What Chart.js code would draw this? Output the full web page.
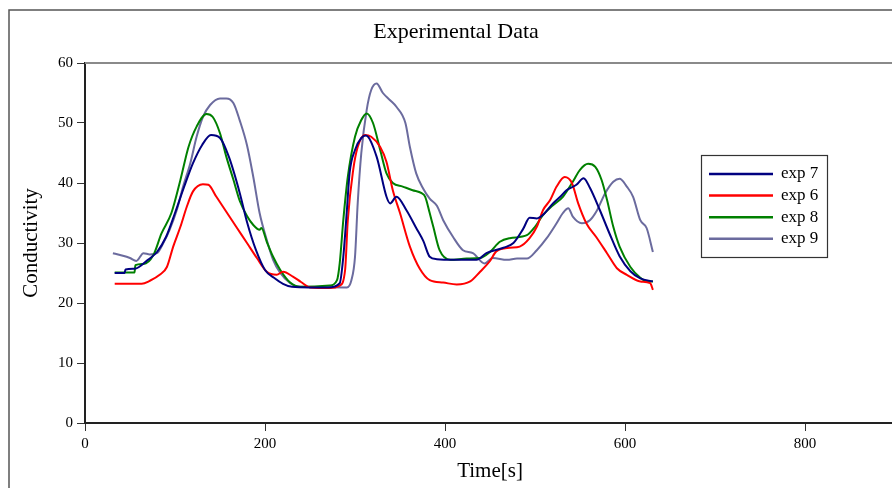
<!DOCTYPE html>
<html>
<head>
<meta charset="utf-8">
<script src="https://cdn.jsdelivr.net/npm/chart.js@4/dist/chart.umd.min.js"></script>
<style>
  html, body { margin: 0; padding: 0; background: #fff; overflow: hidden; }
  #wrap { position: absolute; left: 0; top: 0; width: 912px; height: 500px; }
</style>
</head>
<body>
<div id="wrap"><canvas id="chart" width="912" height="500"></canvas></div>
<script>
// series data (time in s, conductivity)
const labels = ['exp 7', 'exp 6', 'exp 8', 'exp 9'];
const colors = ['#000080', '#ff0000', '#008000', '#6b6b9e'];

const time7 = [33, 44, 45, 55, 60, 70, 80, 90, 100, 110, 120, 130, 140, 150, 160, 172, 180, 190, 200, 210, 220, 230, 250, 270, 283, 287, 291, 294, 300, 307, 312, 324, 335, 339, 346, 357, 368, 376, 383, 391, 410, 435, 446, 465, 476, 487, 494, 502, 509, 520, 528, 535, 546, 554, 561, 572, 583, 594, 606, 617, 631];
const exp7 = [25, 25, 25.6, 25.7, 26, 27.2, 28.5, 31, 35, 39.3, 43.3, 46.3, 48, 47.5, 44.3, 38.3, 33.5, 28.8, 25.5, 24.2, 23.2, 22.7, 22.6, 22.6, 23.3, 27.7, 35.5, 41.7, 45.5, 47.5, 47.9, 44.4, 37.7, 36.6, 37.7, 35.5, 32.5, 30.3, 27.7, 27.3, 27.2, 27.2, 28.3, 29.2, 30, 32.4, 34.2, 34.1, 34.7, 36.6, 37.7, 38.8, 39.7, 40.8, 39.2, 35.5, 31.5, 27.8, 25.3, 24.1, 23.6];

const time6 = [33, 63, 72, 83, 91, 98, 106, 113, 120, 131, 137, 146, 157, 168, 180, 191, 202, 213, 220, 231, 240, 250, 272, 283, 289, 292, 298, 303, 311, 318, 328, 335, 342, 350, 361, 372, 383, 398, 413, 428, 439, 450, 457, 472, 483, 494, 502, 509, 517, 524, 533, 541, 548, 557, 568, 580, 591, 602, 617, 628, 631];
const exp6 = [23.2, 23.2, 23.7, 24.7, 26, 29.4, 32.7, 36, 38.6, 39.8, 39.7, 37.7, 35.2, 32.7, 30, 27.5, 25.2, 24.7, 25.2, 24.4, 23.5, 22.6, 22.5, 22.9, 25.5, 33.8, 42.2, 46, 48, 47.7, 46, 43.5, 38.8, 35, 29.4, 25.7, 23.8, 23.4, 23.1, 23.6, 25.2, 27, 28.6, 29.2, 29.4, 30.8, 32.7, 35.5, 37.2, 39.4, 41, 40, 36.6, 33.3, 31, 28.3, 25.8, 24.7, 23.6, 23.3, 22.2];

const time8 = [33, 55, 56, 65, 76, 85, 96, 106, 115, 124, 135, 142, 150, 157, 165, 172, 180, 187, 194, 196, 202, 209, 217, 228, 239, 272, 280, 283, 287, 292, 300, 307, 313, 320, 328, 335, 342, 353, 364, 374, 378, 383, 387, 394, 406, 424, 439, 450, 461, 472, 491, 500, 509, 520, 531, 542, 550, 559, 567, 574, 580, 587, 594, 606, 617, 624, 631];
const exp8 = [25.1, 25.1, 26.3, 26.5, 28, 31.6, 35, 40.5, 46, 49.4, 51.5, 51, 48.3, 44.4, 40.5, 37, 34.5, 33, 32.2, 32.5, 30.2, 27.7, 25.5, 23.4, 22.7, 22.9, 23.8, 26.6, 33.8, 41, 47.7, 50.5, 51.6, 50, 45.5, 41.6, 40, 39.4, 38.8, 38.3, 37.7, 35, 32.7, 28.8, 27.2, 27.4, 27.5, 28.5, 30.2, 30.8, 31.3, 32.7, 34.7, 36.3, 37.7, 40.2, 42.2, 43.2, 42.7, 40.5, 37.2, 32.7, 29.4, 26, 24.2, 23.6, 23.6];

const time9 = [31, 39, 50, 57, 65, 72, 80, 87, 94, 102, 109, 117, 124, 131, 139, 150, 157, 165, 172, 180, 187, 194, 202, 209, 217, 228, 239, 291, 296, 300, 303, 307, 313, 318, 324, 331, 339, 346, 356, 361, 368, 376, 383, 391, 398, 409, 420, 431, 444, 453, 469, 480, 491, 502, 513, 524, 531, 537, 542, 552, 561, 568, 578, 587, 594, 602, 609, 617, 624, 631];
const exp9 = [28.3, 28, 27.5, 27, 28.3, 28.1, 28.3, 30, 32.2, 35.5, 39.4, 43.3, 47.7, 51, 53, 54.1, 54.1, 53.3, 50.4, 46.3, 41, 35, 30.5, 27.2, 25, 23.3, 22.7, 22.6, 23.8, 27.7, 36.6, 45, 52.2, 55.5, 56.6, 55, 53.8, 52.7, 50, 46, 41.6, 39, 37.4, 36.2, 33.8, 31, 28.8, 28.3, 26.6, 27.5, 27.2, 27.4, 27.4, 28.8, 30.8, 33.3, 35, 35.8, 34.4, 33.3, 33.8, 35.2, 38.3, 40.2, 40.7, 39.4, 37.7, 33.8, 32.5, 28.5];

const yTicks = { min: 0, max: 60, step: 10 };
const xTicks = { min: 0, max: 900, step: 200 };

const times = [time7, time6, time8, time9];
const values = [exp7, exp6, exp8, exp9];

const FONT = '"Liberation Serif", "Times New Roman", serif';

const datasets = labels.map((lab, i) => ({
    label: lab,
    data: times[i].map((t, j) => ({ x: t, y: values[i][j] })),
    borderColor: colors[i],
    borderWidth: 2,
    pointRadius: 0,
    cubicInterpolationMode: 'monotone',
    fill: false
}));

// frame, top border line, title and boxed legend
const decor = {
    id: 'decor',
    beforeDraw(chart) {
        const c = chart.ctx;
        c.save();
        c.fillStyle = '#fff';
        c.fillRect(0, 0, chart.width, chart.height);
        c.strokeStyle = '#555';
        c.lineWidth = 1.5;
        c.strokeRect(9, 10, 894, 520);
        c.restore();
    },
    afterDraw(chart) {
        const c = chart.ctx;
        const a = chart.chartArea;
        c.save();
        c.strokeStyle = '#8a8a8a';
        c.lineWidth = 2;
        c.beginPath();
        c.moveTo(a.left, a.top);
        c.lineTo(a.right, a.top);
        c.stroke();

        c.fillStyle = '#000';
        c.font = '22px ' + FONT;
        c.textAlign = 'center';
        c.textBaseline = 'middle';
        c.fillText('Experimental Data', 456, 32);

        // legend box
        c.strokeStyle = '#333';
        c.lineWidth = 1.2;
        c.strokeRect(701.5, 155.5, 126, 102);
        c.font = '17px ' + FONT;
        c.textAlign = 'left';
        labels.forEach((lab, i) => {
            const y = 174 + i * 21.6;
            c.strokeStyle = colors[i];
            c.lineWidth = 2.5;
            c.beginPath();
            c.moveTo(709, y);
            c.lineTo(773, y);
            c.stroke();
            c.fillStyle = '#000';
            c.fillText(lab, 781, y);
        });
        c.restore();
    }
};

new Chart(document.getElementById('chart'), {
    type: 'line',
    data: { datasets },
    options: {
        responsive: false,
        animation: false,
        layout: { padding: { left: 0, top: 63, right: 17, bottom: 0 } },
        plugins: { legend: { display: false }, tooltip: { enabled: false }, title: { display: false } },
        scales: {
            x: {
                type: 'linear',
                min: xTicks.min,
                max: xTicks.max,
                afterFit: s => { s.height = 77; },
                border: { display: true, color: '#222', width: 2 },
                grid: { drawOnChartArea: false, drawTicks: true, tickLength: 8, color: '#333', tickWidth: 1 },
                ticks: { stepSize: xTicks.step, includeBounds: false, maxRotation: 0, padding: 4, color: '#000', font: { family: FONT, size: 15 } },
                title: { display: true, text: 'Time[s]', color: '#000', font: { family: FONT, size: 21 }, padding: { top: 0, bottom: 16 } }
            },
            y: {
                min: yTicks.min,
                max: yTicks.max,
                afterFit: s => { s.width = 85; },
                border: { display: true, color: '#222', width: 2 },
                grid: { drawOnChartArea: false, drawTicks: true, tickLength: 8, color: '#333', tickWidth: 1 },
                ticks: { stepSize: yTicks.step, padding: 4, color: '#000', font: { family: FONT, size: 15 } },
                title: { display: true, text: 'Conductivity', color: '#000', font: { family: FONT, size: 21 }, padding: { top: 19, bottom: 0 } }
            }
        }
    },
    plugins: [decor]
});
</script>
</body>
</html>
